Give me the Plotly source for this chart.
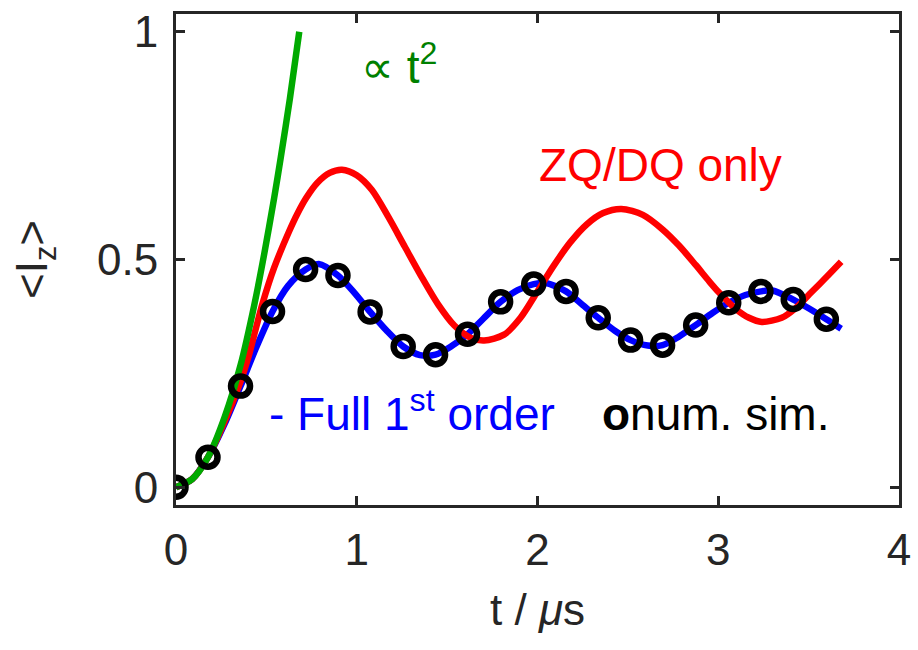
import plotly.graph_objects as go

# Numerical simulation points
t_sim = [0.0, 0.177, 0.357, 0.534, 0.717, 0.896, 1.074, 1.257, 1.436, 1.613, 1.796,
         1.979, 2.158, 2.336, 2.515, 2.692, 2.875, 3.058, 3.236, 3.415, 3.598]
iz_sim = [0.0, 0.066, 0.222, 0.386, 0.478, 0.465, 0.385, 0.309, 0.291, 0.336, 0.407,
          0.446, 0.430, 0.372, 0.323, 0.312, 0.356, 0.405, 0.430, 0.412, 0.369]

# Full first-order theory
t_full = [0.0, 0.09, 0.177, 0.27, 0.357, 0.445, 0.534, 0.62, 0.717, 0.79, 0.896, 0.985,
          1.074, 1.165, 1.257, 1.35, 1.436, 1.525, 1.613, 1.70, 1.796, 1.89, 1.979, 2.05,
          2.158, 2.25, 2.336, 2.43, 2.515, 2.61, 2.692, 2.78, 2.875, 2.97, 3.058, 3.15,
          3.236, 3.30, 3.415, 3.50, 3.598, 3.68]
iz_full = [0.0, 0.018, 0.066, 0.140, 0.222, 0.308, 0.386, 0.442, 0.478, 0.490, 0.465, 0.428,
           0.385, 0.344, 0.309, 0.290, 0.291, 0.310, 0.336, 0.370, 0.407, 0.433, 0.446, 0.448,
           0.430, 0.400, 0.372, 0.343, 0.323, 0.311, 0.312, 0.330, 0.356, 0.383, 0.405, 0.422,
           0.430, 0.432, 0.412, 0.393, 0.369, 0.348]

# ZQ/DQ terms only
t_zq = [0.0, 0.09, 0.177, 0.27, 0.357, 0.40, 0.433, 0.48, 0.543, 0.626, 0.671, 0.72,
        0.781, 0.85, 0.918, 1.0, 1.083, 1.174, 1.266, 1.357, 1.449, 1.540, 1.631, 1.705,
        1.815, 1.906, 1.997, 2.089, 2.18, 2.272, 2.363, 2.464, 2.583, 2.692, 2.784, 2.875,
        2.95, 3.003, 3.095, 3.17, 3.241, 3.351, 3.424, 3.515, 3.60, 3.68]
iz_zq = [0.0, 0.018, 0.066, 0.145, 0.232, 0.285, 0.335, 0.405, 0.482, 0.562, 0.600, 0.635,
         0.668, 0.690, 0.697, 0.685, 0.653, 0.594, 0.528, 0.463, 0.402, 0.355, 0.328, 0.322,
         0.335, 0.372, 0.428, 0.486, 0.537, 0.577, 0.602, 0.611, 0.598, 0.566, 0.530, 0.488,
         0.452, 0.428, 0.392, 0.372, 0.363, 0.372, 0.392, 0.428, 0.462, 0.495]

# Short-time quadratic growth
t_quad = [0.0, 0.09, 0.177, 0.27, 0.357, 0.433, 0.488, 0.543, 0.58, 0.63, 0.682]
iz_quad = [0.0, 0.018, 0.066, 0.155, 0.268, 0.400, 0.512, 0.635, 0.725, 0.853, 1.0]

x_ticks = [0, 1, 2, 3, 4]
y_ticks = [0, 0.5, 1]
y_ticklabels = ["0", "0.5", "1"]

FONT = "Liberation Sans, Arial, sans-serif"
AX = "#262626"

fig = go.Figure()
fig.add_trace(go.Scatter(x=t_full, y=iz_full, mode="lines",
                         line=dict(color="#0000ff", width=6.5, shape="spline", smoothing=0.8)))
fig.add_trace(go.Scatter(x=t_zq, y=iz_zq, mode="lines",
                         line=dict(color="#ff0000", width=6.5, shape="spline", smoothing=0.8)))
fig.add_trace(go.Scatter(x=t_quad, y=iz_quad, mode="lines",
                         line=dict(color="#00aa00", width=6.5, shape="spline", smoothing=0.8)))
fig.add_trace(go.Scatter(x=t_sim, y=iz_sim, mode="markers",
                         marker=dict(symbol="circle-open", size=19, color="black",
                                     line=dict(color="black", width=6.5))))

ann_font = dict(family=FONT, size=46)
fig.add_annotation(x=1.01, y=0.93, xref="x", yref="y", xanchor="left", yanchor="middle",
                   text="∝ t<sup>2</sup>", showarrow=False,
                   font=dict(ann_font, color="#008000"))
fig.add_annotation(x=1.997, y=0.707, xref="x", yref="y", xanchor="left", yanchor="middle",
                   text="ZQ/DQ only", showarrow=False,
                   font=dict(ann_font, color="#ff0000"))
fig.add_annotation(x=0.505, y=0.167, xref="x", yref="y", xanchor="left", yanchor="middle",
                   text="- Full 1<sup>st</sup> order", showarrow=False,
                   font=dict(ann_font, color="#0000ff"))
fig.add_annotation(x=2.343, y=0.161, xref="x", yref="y", xanchor="left", yanchor="middle",
                   text="<b>o</b>num. sim.", showarrow=False,
                   font=dict(ann_font, color="#000000"))

axis_common = dict(showline=True, linecolor=AX, linewidth=3, mirror="ticks",
                   ticks="inside", ticklen=9, tickwidth=3, tickcolor=AX,
                   showgrid=False, zeroline=False,
                   tickfont=dict(family=FONT, size=44, color=AX))

fig.update_layout(
    width=918, height=650,
    margin=dict(l=176, r=13, t=7, b=145),
    paper_bgcolor="white", plot_bgcolor="white",
    showlegend=False,
    xaxis=dict(axis_common, range=[0, 4], tickvals=x_ticks, ticklabelstandoff=4,
               title=dict(text="t / <i>μ</i>s", font=dict(family=FONT, size=44, color=AX),
                          standoff=22)),
    yaxis=dict(axis_common, range=[-0.039, 1.039], tickvals=y_ticks, ticktext=y_ticklabels,
               ticklabelstandoff=6,
               title=dict(text="&lt;I<sub>z</sub>&gt;", font=dict(family=FONT, size=44, color=AX),
                          standoff=36)),
)

fig.write_html("out.html")
